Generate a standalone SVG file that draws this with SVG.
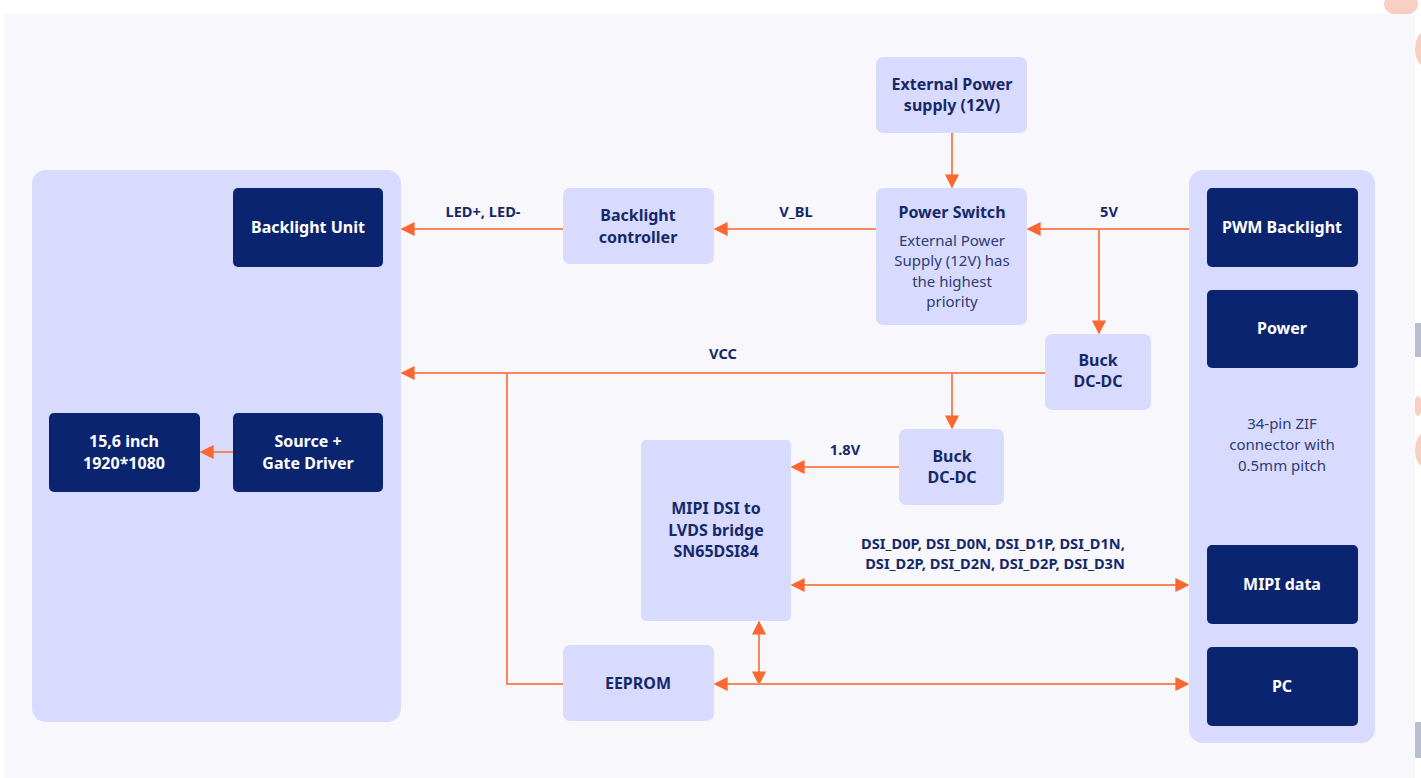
<svg xmlns="http://www.w3.org/2000/svg" width="1421" height="778" viewBox="0 0 1421 778">
<defs>
<marker id="ah" viewBox="0 0 10 10" refX="9" refY="5" markerWidth="14" markerHeight="14" markerUnits="userSpaceOnUse" orient="auto-start-reverse">
<path d="M0,0 L10,5 L0,10 z" fill="#FA6731"/>
</marker>
<style>
.panel{fill:#D8DBFD}
.light{fill:#D8DBFD}
.dark{fill:#0B2470}
.t{font-family:"Noto Sans","Liberation Sans",sans-serif;font-weight:700;font-size:16px;text-anchor:middle;dominant-baseline:central}
.td{fill:#15296A}
.tw{fill:#FFFFFF}
.b{font-family:"Noto Sans","Liberation Sans",sans-serif;font-weight:400;font-size:15px;text-anchor:middle;dominant-baseline:central;fill:#2E3C78}
.lbl{font-family:"Noto Sans","Liberation Sans",sans-serif;font-weight:700;font-size:14.6px;text-anchor:middle;dominant-baseline:central;fill:#15296A}
.c{fill:none;stroke:#F8875A;stroke-width:2}
</style>
</defs>
<rect x="0" y="0" width="1421" height="778" fill="#FFFFFF"/>
<!-- edge artifacts -->
<ellipse cx="1401" cy="4" rx="17" ry="12" fill="#F9CFC2"/>
<ellipse cx="1424" cy="49" rx="9" ry="17" fill="#F9CFC2"/>
<rect x="1415" y="323" width="6" height="34" fill="#B9BFCF"/>
<ellipse cx="1418" cy="406" rx="4" ry="10" fill="#F9CFC2"/>
<ellipse cx="1424" cy="450" rx="9" ry="17" fill="#F9CFC2"/>
<rect x="1415" y="722" width="6" height="36" fill="#B9BFCF"/>
<rect x="4" y="14" width="1411" height="764" fill="#F7F7FC"/>

<g id="left-panel"><rect class="panel" x="32" y="170" width="369" height="552" rx="14"/></g>
<g id="right-panel"><rect class="panel" x="1189" y="170" width="186" height="573" rx="14"/>
<text class="b" x="1282" y="423">34-pin ZIF</text>
<text class="b" x="1282" y="444">connector with</text>
<text class="b" x="1282" y="465">0.5mm pitch</text></g>

<g id="backlight-unit"><rect class="dark" x="233" y="188" width="150" height="79" rx="5"/><text class="t tw" x="308" y="227">Backlight Unit</text></g>
<g id="display"><rect class="dark" x="49" y="413" width="151" height="79" rx="5"/><text class="t tw" x="124" y="441">15,6 inch</text><text class="t tw" x="124" y="463">1920*1080</text></g>
<g id="source-gate"><rect class="dark" x="233" y="413" width="150" height="79" rx="5"/><text class="t tw" x="308" y="441">Source +</text><text class="t tw" x="308" y="463">Gate Driver</text></g>
<g id="backlight-controller"><rect class="light" x="563" y="188" width="151" height="76" rx="7"/><text class="t td" x="638" y="215">Backlight</text><text class="t td" x="638" y="237">controller</text></g>
<g id="ext-power"><rect class="light" x="876" y="57" width="151" height="76" rx="7"/><text class="t td" x="952" y="84">External Power</text><text class="t td" x="952" y="105">supply (12V)</text></g>
<g id="power-switch"><rect class="light" x="876" y="188" width="151" height="137" rx="7"/><text class="t td" x="952" y="212">Power Switch</text>
<text class="b" x="952" y="240">External Power</text><text class="b" x="952" y="260">Supply (12V) has</text><text class="b" x="952" y="281">the highest</text><text class="b" x="952" y="301">priority</text></g>
<g id="buck1"><rect class="light" x="1045" y="334" width="106" height="76" rx="7"/><text class="t td" x="1098" y="360">Buck</text><text class="t td" x="1098" y="381">DC-DC</text></g>
<g id="buck2"><rect class="light" x="899" y="429" width="105" height="76" rx="7"/><text class="t td" x="952" y="456">Buck</text><text class="t td" x="952" y="477">DC-DC</text></g>
<g id="mipi-bridge"><rect class="light" x="641" y="440" width="150" height="181" rx="5"/><text class="t td" x="716" y="508">MIPI DSI to</text><text class="t td" x="716" y="530">LVDS bridge</text><text class="t td" x="716" y="551">SN65DSI84</text></g>
<g id="eeprom"><rect class="light" x="563" y="645" width="151" height="76" rx="7"/><text class="t td" x="638" y="683">EEPROM</text></g>
<g id="pwm-backlight"><rect class="dark" x="1207" y="188" width="151" height="79" rx="5"/><text class="t tw" x="1282" y="227">PWM Backlight</text></g>
<g id="power"><rect class="dark" x="1207" y="290" width="151" height="78" rx="5"/><text class="t tw" x="1282" y="328">Power</text></g>
<g id="mipi-data"><rect class="dark" x="1207" y="545" width="151" height="79" rx="5"/><text class="t tw" x="1282" y="584">MIPI data</text></g>
<g id="pc"><rect class="dark" x="1207" y="647" width="151" height="79" rx="5"/><text class="t tw" x="1282" y="686">PC</text></g>

<g id="connectors">
<path class="c" d="M233,452 H201" marker-end="url(#ah)"/>
<path class="c" d="M563,229 H402" marker-end="url(#ah)"/>
<path class="c" d="M876,229 H715" marker-end="url(#ah)"/>
<path class="c" d="M1189,229 H1028" marker-end="url(#ah)"/>
<path class="c" d="M1099,229 V333" marker-end="url(#ah)"/>
<path class="c" d="M952,133 V187" marker-end="url(#ah)"/>
<path class="c" d="M1045,373 H402" marker-end="url(#ah)"/>
<path class="c" d="M507,373 V684 H563"/>
<path class="c" d="M952,373 V428" marker-end="url(#ah)"/>
<path class="c" d="M899,467 H792" marker-end="url(#ah)"/>
<path class="c" d="M792,585 H1188" marker-start="url(#ah)" marker-end="url(#ah)"/>
<path class="c" d="M759,622 V684" marker-start="url(#ah)" marker-end="url(#ah)"/>
<path class="c" d="M715,684 H1188" marker-start="url(#ah)" marker-end="url(#ah)"/>
<text class="lbl" x="483" y="211">LED+, LED-</text>
<text class="lbl" x="796" y="211">V_BL</text>
<text class="lbl" x="1109" y="211">5V</text>
<text class="lbl" x="723" y="353">VCC</text>
<text class="lbl" x="845" y="449">1.8V</text>
<text class="lbl" x="993" y="543">DSI_D0P, DSI_D0N, DSI_D1P, DSI_D1N,</text>
<text class="lbl" x="995" y="563">DSI_D2P, DSI_D2N, DSI_D2P, DSI_D3N</text>
</g>
</svg>
